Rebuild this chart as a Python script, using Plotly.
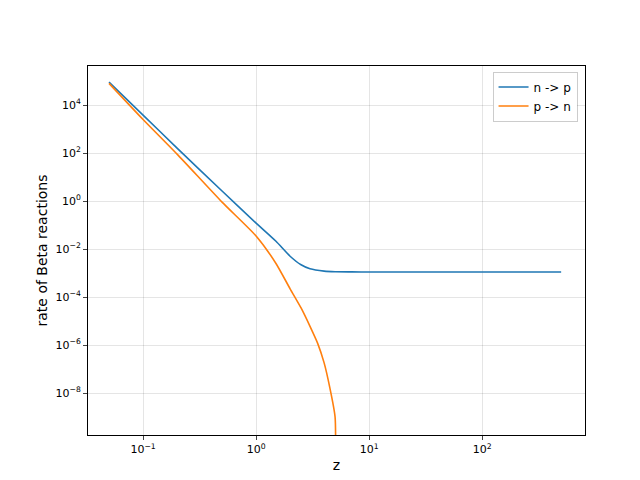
import plotly.graph_objects as go

# values
z_np = [0.05, 0.1, 0.2, 0.5, 1.0, 1.5, 2.0, 2.5, 3.0, 4.0, 5.0, 7.0, 10.0, 50.0, 500.0]
rate_np = [9e4, 3.8e3, 160, 2.6, 0.12, 0.021, 5e-3, 2.2e-3, 1.5e-3, 1.2e-3, 1.13e-3, 1.11e-3, 1.1e-3, 1.1e-3, 1.1e-3]

z_pn = [0.05, 0.1, 0.2, 0.5, 1.0, 1.5, 2.0, 2.5, 3.0, 3.5, 4.0, 4.5, 5.0, 5.01]
rate_pn = [8e4, 2.5e3, 90, 0.9, 0.035, 2.5e-3, 2.2e-4, 3.5e-5, 6e-6, 1.2e-6, 1.8e-7, 1.6e-8, 1e-9, 1e-12]

x_ticks = [0.1, 1, 10, 100]
x_labels = ["10<sup>−1</sup>", "10<sup>0</sup>", "10<sup>1</sup>", "10<sup>2</sup>"]
y_ticks = [1e-8, 1e-6, 1e-4, 1e-2, 1, 1e2, 1e4]
y_labels = ["10<sup>−8</sup>", "10<sup>−6</sup>", "10<sup>−4</sup>", "10<sup>−2</sup>",
            "10<sup>0</sup>", "10<sup>2</sup>", "10<sup>4</sup>"]

fig = go.Figure()
fig.add_trace(go.Scatter(x=z_np, y=rate_np, mode="lines", name="n -> p",
                         line=dict(color="#1f77b4", width=1.6, shape="spline", smoothing=0.6)))
fig.add_trace(go.Scatter(x=z_pn, y=rate_pn, mode="lines", name="p -> n",
                         line=dict(color="#ff7f0e", width=1.6, shape="spline", smoothing=0.6)))

axis_style = dict(type="log", showline=True, mirror=True, linecolor="black", linewidth=1,
                  ticks="outside", ticklen=4, showgrid=True, gridcolor="rgba(0,0,0,0.1)",
                  zeroline=False, automargin=False, tickfont=dict(size=11, color="black"))

fig.update_xaxes(axis_style, range=[-1.487, 2.91], tickvals=x_ticks, ticktext=x_labels,
                 title=dict(text="z", standoff=4))
fig.update_yaxes(axis_style, range=[-9.75, 5.625], tickvals=y_ticks, ticktext=y_labels,
                 title=dict(text="rate of Beta reactions", standoff=4))

fig.update_layout(
    width=640, height=480,
    plot_bgcolor="white", paper_bgcolor="white",
    font=dict(family="DejaVu Sans", size=12, color="black"),
    margin=dict(l=80, r=63, t=58, b=53),
    legend=dict(x=0.985, y=0.985, xanchor="right", yanchor="top",
                bordercolor="rgba(0,0,0,0.2)", borderwidth=1, bgcolor="white"),
)

fig.write_html("out.html")
